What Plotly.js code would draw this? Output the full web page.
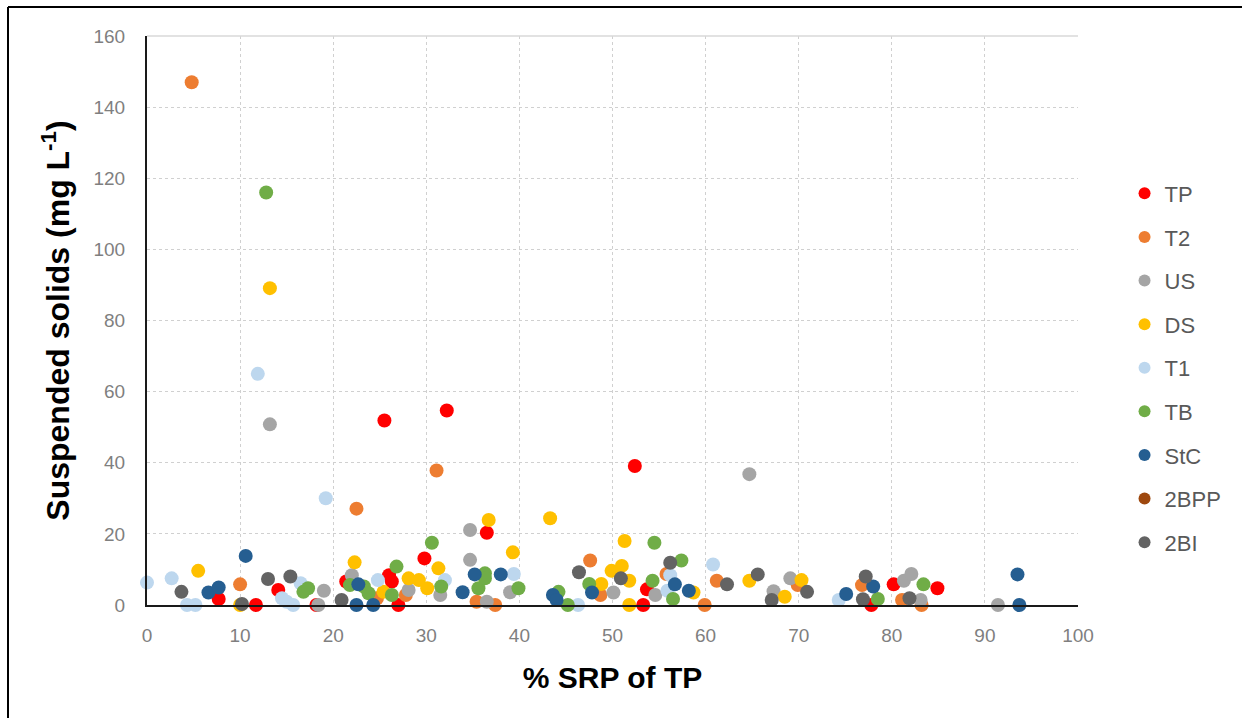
<!DOCTYPE html>
<html>
<head>
<meta charset="utf-8">
<script src="https://cdn.plot.ly/plotly-3.0.1.min.js"></script>
<style>html,body{margin:0;padding:0;background:#fff;}#chart{width:1242px;height:718px;}</style>
</head>
<body>
<div id="chart"></div>
<script>
// Series data: x = % SRP of TP, y = suspended solids (mg/L)
const seriesNames = ["TP", "T2", "US", "DS", "T1", "TB", "StC", "2BPP", "2BI"];
const seriesColors = ["#FF0000", "#ED7D31", "#A5A5A5", "#FFC000", "#BDD7EE", "#70AD47", "#255E91", "#9E480E", "#636363"];

const TP_x = [25.5, 32.2, 52.4, 36.5, 29.8, 7.7, 11.7, 14.1, 18.2, 21.4, 26.0, 26.3, 27.0, 53.7, 53.3, 77.8, 80.2, 84.9];
const TP_y = [51.9, 54.7, 39.1, 20.3, 13.1, 1.7, 0, 4.2, 0, 6.6, 8.4, 6.6, 0, 4.4, 0, 0, 5.8, 4.7];

const T2_x = [4.8, 31.1, 22.5, 10.0, 24.7, 27.8, 35.4, 37.4, 47.6, 48.7, 55.8, 59.9, 61.2, 69.9, 76.8, 81.1, 83.2];
const T2_y = [147, 37.8, 27.1, 5.8, 1.9, 2.8, 0.9, 0, 12.5, 2.8, 8.7, 0, 6.8, 5.6, 5.6, 1.4, 0];

const US_x = [13.2, 64.7, 34.7, 34.7, 19.0, 18.4, 22.0, 28.1, 31.5, 36.5, 39.0, 50.1, 54.6, 67.3, 69.1, 81.3, 82.1, 83.1, 91.4];
const US_y = [50.8, 36.8, 21.1, 12.7, 4.0, 0, 8.4, 4.2, 2.8, 0.9, 3.6, 3.5, 2.8, 3.9, 7.5, 6.8, 8.7, 1.4, 0];

const DS_x = [13.2, 36.7, 43.3, 5.5, 10.0, 22.3, 25.4, 28.1, 29.2, 30.1, 31.3, 39.3, 48.8, 49.9, 51.3, 51.0, 51.8, 51.8, 58.7, 64.7, 68.5, 70.3];
const DS_y = [89.1, 23.9, 24.4, 9.6, 0, 12.0, 3.7, 7.5, 7.0, 4.7, 10.3, 14.8, 5.9, 9.6, 18.0, 11.0, 6.8, 0, 3.5, 6.8, 2.3, 7.0];

const T1_x = [11.9, 19.2, 0, 2.65, 4.3, 5.2, 16.5, 14.5, 15.0, 15.7, 24.8, 32.0, 39.4, 46.3, 56.2, 55.9, 60.8, 74.3];
const T1_y = [65.0, 30.0, 6.3, 7.5, 0, 0, 6.1, 1.9, 0.9, 0, 7.0, 7.0, 8.7, 0, 8.4, 4.0, 11.4, 1.4];

const TB_x = [12.8, 16.8, 17.3, 21.8, 23.3, 23.8, 26.8, 26.3, 30.6, 31.6, 35.6, 36.3, 36.3, 39.9, 44.2, 45.2, 47.5, 54.5, 54.3, 56.5, 57.4, 78.5, 83.4];
const TB_y = [116, 3.7, 4.7, 5.6, 5.2, 3.3, 10.8, 2.8, 17.5, 5.2, 4.7, 8.9, 7.5, 4.7, 3.7, 0, 5.9, 17.5, 6.8, 1.7, 12.5, 1.7, 5.8];

const StC_x = [10.6, 6.6, 7.7, 22.7, 22.5, 24.3, 33.9, 35.2, 38.0, 43.6, 44.0, 47.8, 56.7, 58.2, 75.1, 78.0, 93.5, 93.7];
const StC_y = [13.8, 3.5, 4.9, 5.8, 0, 0, 3.6, 8.6, 8.6, 2.8, 1.4, 3.5, 5.8, 4.0, 3.1, 5.2, 8.6, 0];

// 2BPP: no point is visible in the chart (listed in legend only)
const BPP_x = [null];
const BPP_y = [null];

const BI_x = [3.7, 10.2, 13.0, 15.4, 20.9, 46.4, 50.9, 56.2, 62.3, 65.6, 67.1, 70.9, 77.2, 76.9, 81.9];
const BI_y = [3.7, 0.3, 7.3, 8.0, 1.4, 9.2, 7.5, 11.9, 5.8, 8.6, 1.4, 3.7, 8.0, 1.6, 1.9];

const allX = [TP_x, T2_x, US_x, DS_x, T1_x, TB_x, StC_x, BPP_x, BI_x];
const allY = [TP_y, T2_y, US_y, DS_y, T1_y, TB_y, StC_y, BPP_y, BI_y];

const xTicks = [0, 10, 20, 30, 40, 50, 60, 70, 80, 90, 100];
const yTicks = [0, 20, 40, 60, 80, 100, 120, 140, 160];

const traces = seriesNames.map((name, i) => ({
  type: "scatter",
  mode: "markers",
  name: name,
  x: allX[i],
  y: allY[i],
  legendgroup: "g" + i,
  showlegend: true,
  cliponaxis: false,
  marker: { color: seriesColors[i], size: 14, line: { width: 0 } }
}));

const layout = {
  width: 1242,
  height: 718,
  margin: { l: 147, r: 164, t: 36, b: 113 },
  paper_bgcolor: "#ffffff",
  plot_bgcolor: "#ffffff",
  font: { family: "Liberation Sans, Arial, sans-serif", color: "#7f7f7f" },
  showlegend: true,
  legend: {
    x: 1.05, xanchor: "left", y: 0.76, yanchor: "top",
    font: { size: 22, color: "#595959" },
    traceorder: "grouped",
    tracegroupgap: 12,
    itemsizing: "constant",
    bgcolor: "rgba(0,0,0,0)"
  },
  xaxis: {
    range: [0, 100],
    tickvals: xTicks,
    ticktext: xTicks.map(String),
    showgrid: true, gridcolor: "#D0D0D0", griddash: "dot", gridwidth: 1,
    showline: true, linecolor: "#1a1a1a", linewidth: 2,
    zeroline: false, ticks: "",
    ticklabelstandoff: 12,
    tickfont: { size: 19, color: "#7f7f7f" },
    title: { text: "<b>% SRP of TP</b>", font: { size: 30, color: "#000000" }, standoff: 22 }
  },
  yaxis: {
    range: [0, 160],
    tickvals: yTicks,
    ticktext: yTicks.map(String),
    showgrid: true, gridcolor: "#D0D0D0", griddash: "dot", gridwidth: 1,
    showline: true, linecolor: "#1a1a1a", linewidth: 2,
    zeroline: false, ticks: "",
    ticklabelstandoff: 16,
    tickfont: { size: 19, color: "#7f7f7f" },
    title: { text: "<b>Suspended solids (mg L<sup>-1</sup>)</b>", font: { size: 32, color: "#000000" }, standoff: 14 }
  },
  shapes: [
    { type: "line", xref: "paper", yref: "paper", x0: -0.1493, x1: -0.1493, y0: 1.051, y1: -0.2, line: { color: "#000", width: 2 } },
    { type: "line", xref: "paper", yref: "paper", x0: -0.1493, x1: 1.18, y0: 1.051, y1: 1.051, line: { color: "#000", width: 2 } },
    { type: "line", xref: "paper", yref: "paper", x0: 0, x1: 1, y0: 1, y1: 1, line: { color: "#D9D9D9", width: 1.5 } }
  ]
};

Plotly.newPlot("chart", traces, layout, { staticPlot: true, displayModeBar: false });
</script>
</body>
</html>
